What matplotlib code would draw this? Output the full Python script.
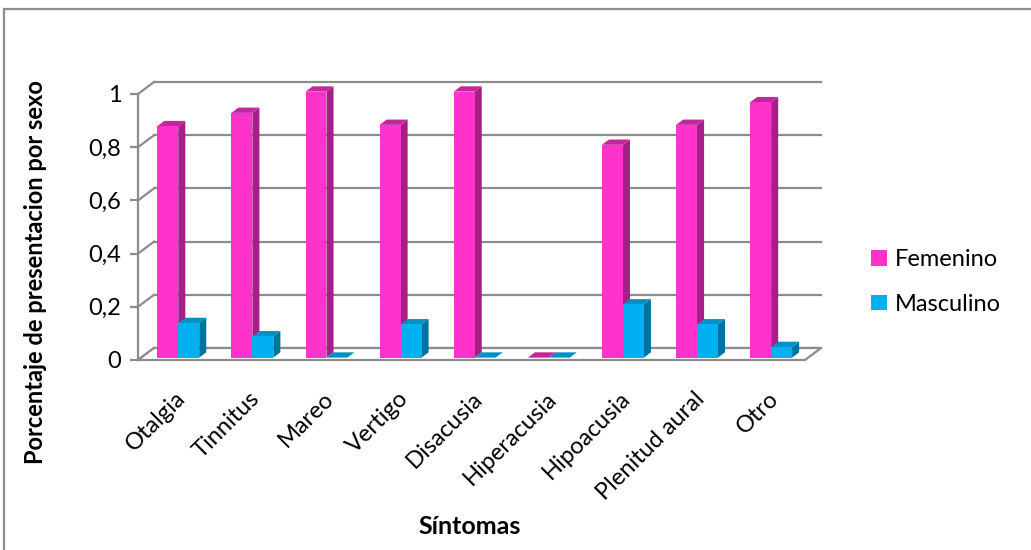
import matplotlib.pyplot as plt
from matplotlib.patches import Polygon, Rectangle, Patch
from matplotlib.ticker import FuncFormatter

sintomas = ["Otalgia", "Tinnitus", "Mareo", "Vertigo", "Disacusia",
            "Hiperacusia", "Hipoacusia", "Plenitud aural", "Otro"]
femenino = [0.87, 0.92, 1.0, 0.875, 1.0, 0.0, 0.8, 0.875, 0.96]
masculino = [0.13, 0.08, 0.0, 0.125, 0.0, 0.0, 0.2, 0.125, 0.04]
y_ticks = [0, 0.2, 0.4, 0.6, 0.8, 1.0]

plt.rcParams['font.family'] = ['Lato', 'DejaVu Sans']

W, H = 1031, 550
fig = plt.figure(figsize=(W / 100, H / 100), dpi=100)
ax = fig.add_axes([138 / W, (H - 360) / H, 667 / W, 266 / H])
ax.set_xlim(-0.5, len(sintomas) - 0.5)
ax.set_ylim(0, 1)

grey = "#8c8c8c"
DX, DY = 16 / 74.1, 12 / 266   # full depth of the 3d box in data units
f0, fd = 0.2, 0.44             # bar front position and bar depth (fractions)
w = 0.283

# back wall, left wall and floor
x0, x1 = -0.5, len(sintomas) - 0.5
for v in y_ticks:
    ax.plot([x0 + DX, x1 + DX], [v + DY, v + DY], color=grey, lw=1.6,
            clip_on=False, zorder=0)
    ax.plot([x0, x0 + DX], [v, v + DY], color=grey, lw=1.6, clip_on=False, zorder=0)
floor = Polygon([(x0, 0), (x1, 0), (x1 + DX, DY), (x0 + DX, DY)], closed=True,
                fc="white", ec=grey, lw=1.6, clip_on=False, zorder=0.5)
ax.add_patch(floor)


def bar3d(xs, vals, front, side, top, z):
    ox, oy = f0 * DX, f0 * DY
    dx, dy = fd * DX, fd * DY
    for x, v in zip(xs, vals):
        xl, xr = x + ox, x + ox + w
        yb, yt = oy, oy + v
        ax.add_patch(Polygon([(xr, yb), (xr + dx, yb + dy), (xr + dx, yt + dy), (xr, yt)],
                             closed=True, fc=side, ec="none", clip_on=False, zorder=z))
        ax.add_patch(Polygon([(xl, yt), (xr, yt), (xr + dx, yt + dy), (xl + dx, yt + dy)],
                             closed=True, fc=top, ec="none", clip_on=False, zorder=z))
    ax.bar([x + ox for x in xs], vals, width=w, bottom=oy, align="edge",
           color=front, clip_on=False, zorder=z + 0.5)


idx = list(range(len(sintomas)))
bar3d([i - w for i in idx], femenino, "#ff33cc", "#a61f86", "#c4269c", 2)
bar3d(idx, masculino, "#00b0f0", "#00739c", "#0090c4", 3)

for s in ["top", "right", "bottom"]:
    ax.spines[s].set_visible(False)
ax.spines["left"].set_color(grey)
ax.spines["left"].set_linewidth(1.6)
ax.set_yticks(y_ticks)
ax.yaxis.set_major_formatter(FuncFormatter(lambda v, p: ("%g" % v).replace(".", ",")))
ax.tick_params(axis="y", length=6, width=1.6, color=grey, labelsize=17, pad=6)
ax.set_xticks(idx)
ax.set_xticklabels(sintomas, rotation=45, ha="right", rotation_mode="anchor", fontsize=17)
ax.tick_params(axis="x", length=0, pad=20)

fig.text(36 / W, 1 - 272 / H, "Porcentaje de presentacion por sexo", rotation=90,
         ha="center", va="center", fontsize=17, fontweight="bold")
fig.text(470 / W, 1 - 527 / H, "Síntomas", ha="center", va="center",
         fontsize=18, fontweight="bold")

handles = [Patch(fc="#ff33cc"), Patch(fc="#00b0f0")]
fig.legend(handles, ["Femenino", "Masculino"], loc="center left",
           bbox_to_anchor=(850 / W, 1 - 282 / H), frameon=False, fontsize=17,
           handlelength=0.65, handleheight=0.65, handletextpad=0.35, labelspacing=1.0)

fig.patches.append(Rectangle((4 / W, -0.1), 1.2, 1.1 - 9 / H, transform=fig.transFigure,
                             fill=False, ec=grey, lw=1.6))

fig.savefig("out.png", dpi=100, facecolor="white")
